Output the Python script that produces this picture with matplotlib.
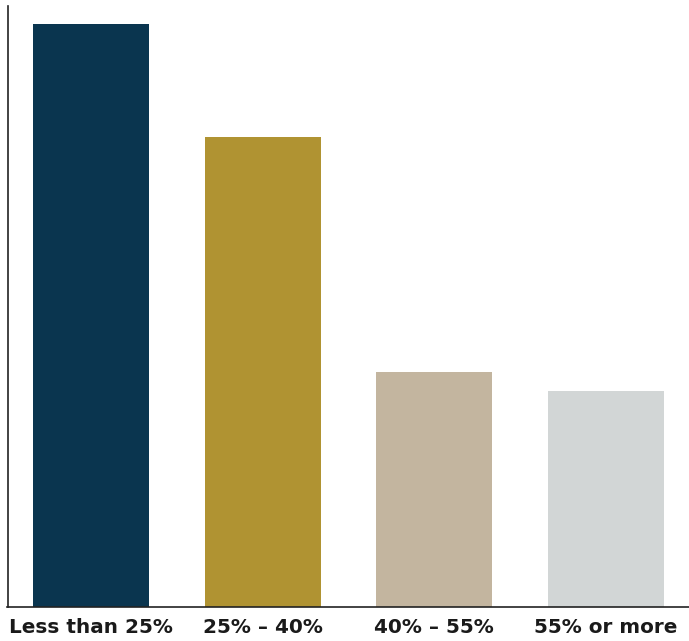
import matplotlib.pyplot as plt

categories = ["Less than 25%", "25% \u2013 40%", "40% \u2013 55%", "55% or more"]
values = [100.0, 80.6, 40.3, 37.0]
colors = ["#0A354F", "#B09332", "#C3B59F", "#D2D6D6"]

fig = plt.figure(figsize=(6.89, 6.41), dpi=100)
ax = fig.add_axes([7.5 / 689, 34 / 641, 1 - 7.5 / 689, 601 / 641])

x = range(len(categories))
ax.bar(x, values, width=0.674, color=colors)

ax.set_xlim(-0.4855, 3.4826)
ax.set_ylim(0, 103.1)
ax.set_xticks(list(x))
ax.set_xticklabels(categories, fontfamily="DejaVu Sans", fontweight="bold",
                   fontsize=14.4, color="#1a1a1a")
ax.tick_params(axis="x", length=0, pad=8)
ax.set_yticks([])

for side in ("top", "right"):
    ax.spines[side].set_visible(False)
for side in ("left", "bottom"):
    ax.spines[side].set_linewidth(1.2)
    ax.spines[side].set_color("#222222")

fig.savefig("out.png", dpi=100)
